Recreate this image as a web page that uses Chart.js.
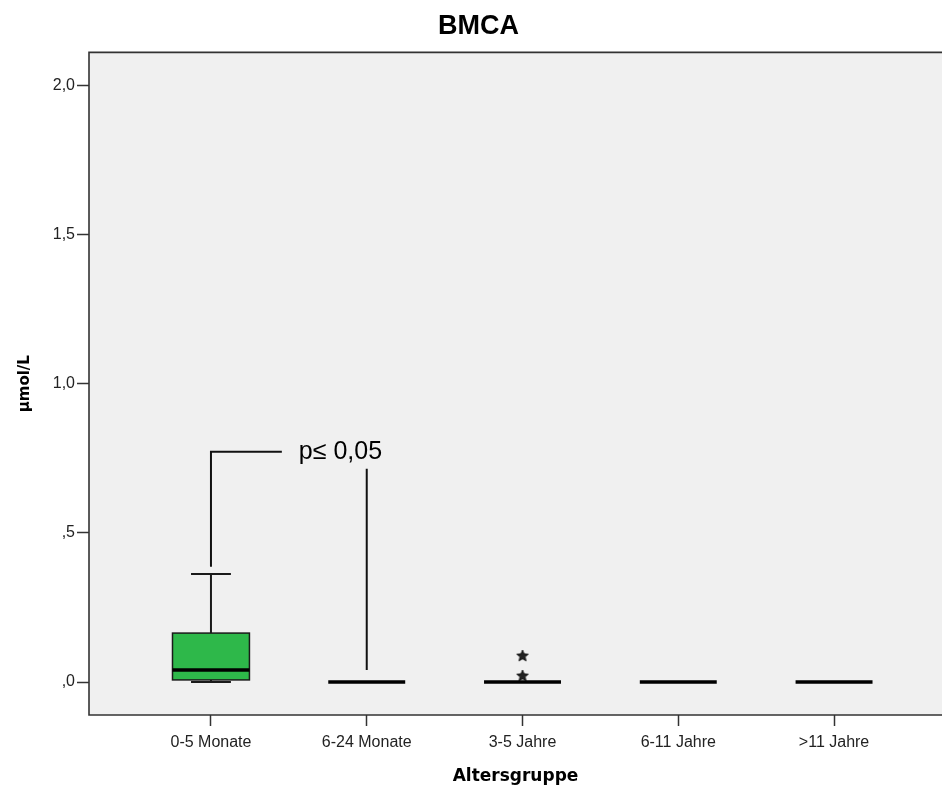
<!DOCTYPE html>
<html>
<head>
<meta charset="utf-8">
<title>BMCA</title>
<script src="https://cdn.jsdelivr.net/npm/chart.js@4/dist/chart.umd.min.js"></script>
<style>
  html, body { margin: 0; padding: 0; background: #fff; overflow: hidden; }
  #canvas { display: block; }
</style>
</head>
<body>
<canvas id="canvas" width="942" height="792"></canvas>
<script>
// data
var categories = ['0-5 Monate', '6-24 Monate', '3-5 Jahre', '6-11 Jahre', '>11 Jahre'];
var whiskerLow = [0, 0, 0, 0, 0];
var q1 = [0.007, 0, 0, 0, 0];
var median = [0.04, 0, 0, 0, 0];
var q3 = [0.164, 0, 0, 0, 0];
var whiskerHigh = [0.362, 0, 0, 0, 0];
var outlierGroup = [3, 3];
var outlierValues = [0.087, 0.02];
var yTicks = [0, 0.5, 1, 1.5, 2];
var yTickLabels = [',0', ',5', '1,0', '1,5', '2,0'];

// significance annotation
var bracketLeft = [{x: 1, y: 0.386}, {x: 1, y: 0.772}, {x: 1.455, y: 0.772}];
var bracketRight = [{x: 2, y: 0.04}, {x: 2, y: 0.715}];
var pLabel = 'p\u2264 0,05';
var pLabelAt = {x: 1.564, y: 0.748};

var sans = '"Liberation Sans", Arial, sans-serif';
var boxHalf = 0.247;
var capHalf = 0.128;

function makeStar(r) {
  var c = document.createElement('canvas');
  c.width = c.height = 2 * r + 2;
  var g = c.getContext('2d');
  g.beginPath();
  for (var k = 0; k < 10; k++) {
    var rad = k % 2 ? r * 0.45 : r;
    var a = -Math.PI / 2 + k * Math.PI / 5;
    g.lineTo(r + 1 + rad * Math.cos(a), r + 1 + rad * Math.sin(a));
  }
  g.closePath();
  g.fillStyle = '#222';
  g.fill();
  g.strokeStyle = '#000';
  g.lineWidth = 0.8;
  g.stroke();
  return c;
}

// plot background + frame
var plotFrame = {
  id: 'plotFrame',
  beforeDatasetsDraw: function(chart) {
    var a = chart.chartArea, ctx = chart.ctx;
    ctx.save();
    ctx.fillStyle = '#f0f0f0';
    ctx.fillRect(a.left, a.top, a.right - a.left, a.bottom - a.top);
    ctx.restore();
  },
  afterDraw: function(chart) {
    var a = chart.chartArea, ctx = chart.ctx;
    ctx.save();
    ctx.strokeStyle = '#333';
    ctx.lineWidth = 1.6;
    ctx.beginPath();
    ctx.moveTo(a.right, a.top);
    ctx.lineTo(a.left, a.top);
    ctx.lineTo(a.left, a.bottom);
    ctx.lineTo(a.right, a.bottom);
    ctx.stroke();
    ctx.restore();
  }
};

// boxes, whiskers and medians through the chart's scales
var boxPlot = {
  id: 'boxPlot',
  beforeDatasetsDraw: function(chart) {
    var xs = chart.scales.x, ys = chart.scales.y, ctx = chart.ctx;
    ctx.save();
    for (var i = 0; i < categories.length; i++) {
      var c = i + 1;
      var cx = xs.getPixelForValue(c);
      var bl = xs.getPixelForValue(c - boxHalf), br = xs.getPixelForValue(c + boxHalf);
      var cl = xs.getPixelForValue(c - capHalf), cr = xs.getPixelForValue(c + capHalf);
      ctx.strokeStyle = '#1a1a1a';
      ctx.lineWidth = 2;
      if (whiskerHigh[i] > q3[i]) {
        ctx.beginPath();
        ctx.moveTo(cx, ys.getPixelForValue(q3[i]));
        ctx.lineTo(cx, ys.getPixelForValue(whiskerHigh[i]));
        ctx.moveTo(cl, ys.getPixelForValue(whiskerHigh[i]));
        ctx.lineTo(cr, ys.getPixelForValue(whiskerHigh[i]));
        ctx.stroke();
      }
      if (whiskerLow[i] < q1[i]) {
        ctx.beginPath();
        ctx.moveTo(cx, ys.getPixelForValue(q1[i]));
        ctx.lineTo(cx, ys.getPixelForValue(whiskerLow[i]));
        ctx.moveTo(cl, ys.getPixelForValue(whiskerLow[i]));
        ctx.lineTo(cr, ys.getPixelForValue(whiskerLow[i]));
        ctx.stroke();
      }
      if (q3[i] > q1[i]) {
        var top = ys.getPixelForValue(q3[i]), bot = ys.getPixelForValue(q1[i]);
        ctx.fillStyle = '#2eb84a';
        ctx.fillRect(bl, top, br - bl, bot - top);
        ctx.lineWidth = 1.5;
        ctx.strokeRect(bl, top, br - bl, bot - top);
      }
      ctx.strokeStyle = '#000';
      ctx.lineWidth = 3.5;
      ctx.beginPath();
      ctx.moveTo(bl, ys.getPixelForValue(median[i]));
      ctx.lineTo(br, ys.getPixelForValue(median[i]));
      ctx.stroke();
    }
    ctx.restore();
  },
  afterDatasetsDraw: function(chart) {
    var ctx = chart.ctx;
    ctx.save();
    ctx.font = '25px ' + sans;
    ctx.fillStyle = '#000';
    ctx.textBaseline = 'alphabetic';
    ctx.fillText(pLabel, chart.scales.x.getPixelForValue(pLabelAt.x), chart.scales.y.getPixelForValue(pLabelAt.y));
    ctx.restore();
  }
};

var ctx = document.getElementById('canvas').getContext('2d');

var outlierPoints = [];
for (var k = 0; k < outlierValues.length; k++) {
  outlierPoints.push({x: outlierGroup[k], y: outlierValues[k]});
}

var myChart = new Chart(ctx, {
  type: 'scatter',
  data: {
    datasets: [
      {
        label: 'Ausreißer',
        data: outlierPoints,
        pointStyle: makeStar(6),
        pointRadius: 6
      },
      {
        label: 'bracket1',
        data: bracketLeft,
        showLine: true,
        borderColor: '#111',
        borderWidth: 2,
        pointRadius: 0,
        fill: false,
        tension: 0
      },
      {
        label: 'bracket2',
        data: bracketRight,
        showLine: true,
        borderColor: '#111',
        borderWidth: 2,
        pointRadius: 0,
        fill: false,
        tension: 0
      }
    ]
  },
  options: {
    responsive: false,
    animation: false,
    layout: { autoPadding: false, padding: { left: 15, top: 0, right: 0, bottom: 0 } },
    plugins: {
      legend: { display: false },
      tooltip: { enabled: false },
      title: {
        display: true,
        text: 'BMCA',
        color: '#000',
        font: { family: sans, size: 27, weight: 'bold' },
        padding: { top: 10, bottom: 10 }
      }
    },
    scales: {
      x: {
        type: 'linear',
        min: 0.217,
        max: 5.693,
        afterBuildTicks: function(s) {
          s.ticks = categories.map(function(c, i) { return {value: i + 1}; });
        },
        afterFit: function(s) {
          s.height = 77;
          s.paddingLeft = 0;
          s.paddingRight = 0;
        },
        ticks: {
          callback: function(v, i) { return categories[i]; },
          color: '#222',
          font: { family: sans, size: 16 },
          padding: 7,
          maxRotation: 0,
          autoSkip: false
        },
        grid: { drawOnChartArea: false, tickLength: 11, tickColor: '#333', tickWidth: 1.5 },
        border: { display: false },
        title: {
          display: true,
          text: 'Altersgruppe',
          color: '#000',
          font: { family: '"DejaVu Sans", sans-serif', size: 17, weight: 'bold' },
          padding: { top: 0, bottom: 5 }
        }
      },
      y: {
        type: 'linear',
        min: -0.1106,
        max: 2.1106,
        afterBuildTicks: function(s) {
          s.ticks = yTicks.map(function(v) { return {value: v}; });
        },
        afterFit: function(s) {
          s.width = 74;
          s.paddingTop = 0;
          s.paddingBottom = 0;
        },
        ticks: {
          callback: function(v, i) { return yTickLabels[i]; },
          color: '#222',
          font: { family: sans, size: 16 },
          padding: 2
        },
        grid: { drawOnChartArea: false, tickLength: 12, tickColor: '#333', tickWidth: 1.5 },
        border: { display: false },
        title: {
          display: true,
          text: 'µmol/L',
          color: '#000',
          font: { family: '"DejaVu Sans", sans-serif', size: 15, weight: 'bold' },
          padding: { top: 1, bottom: 0 }
        }
      }
    }
  },
  plugins: [plotFrame, boxPlot]
});
</script>
</body>
</html>
